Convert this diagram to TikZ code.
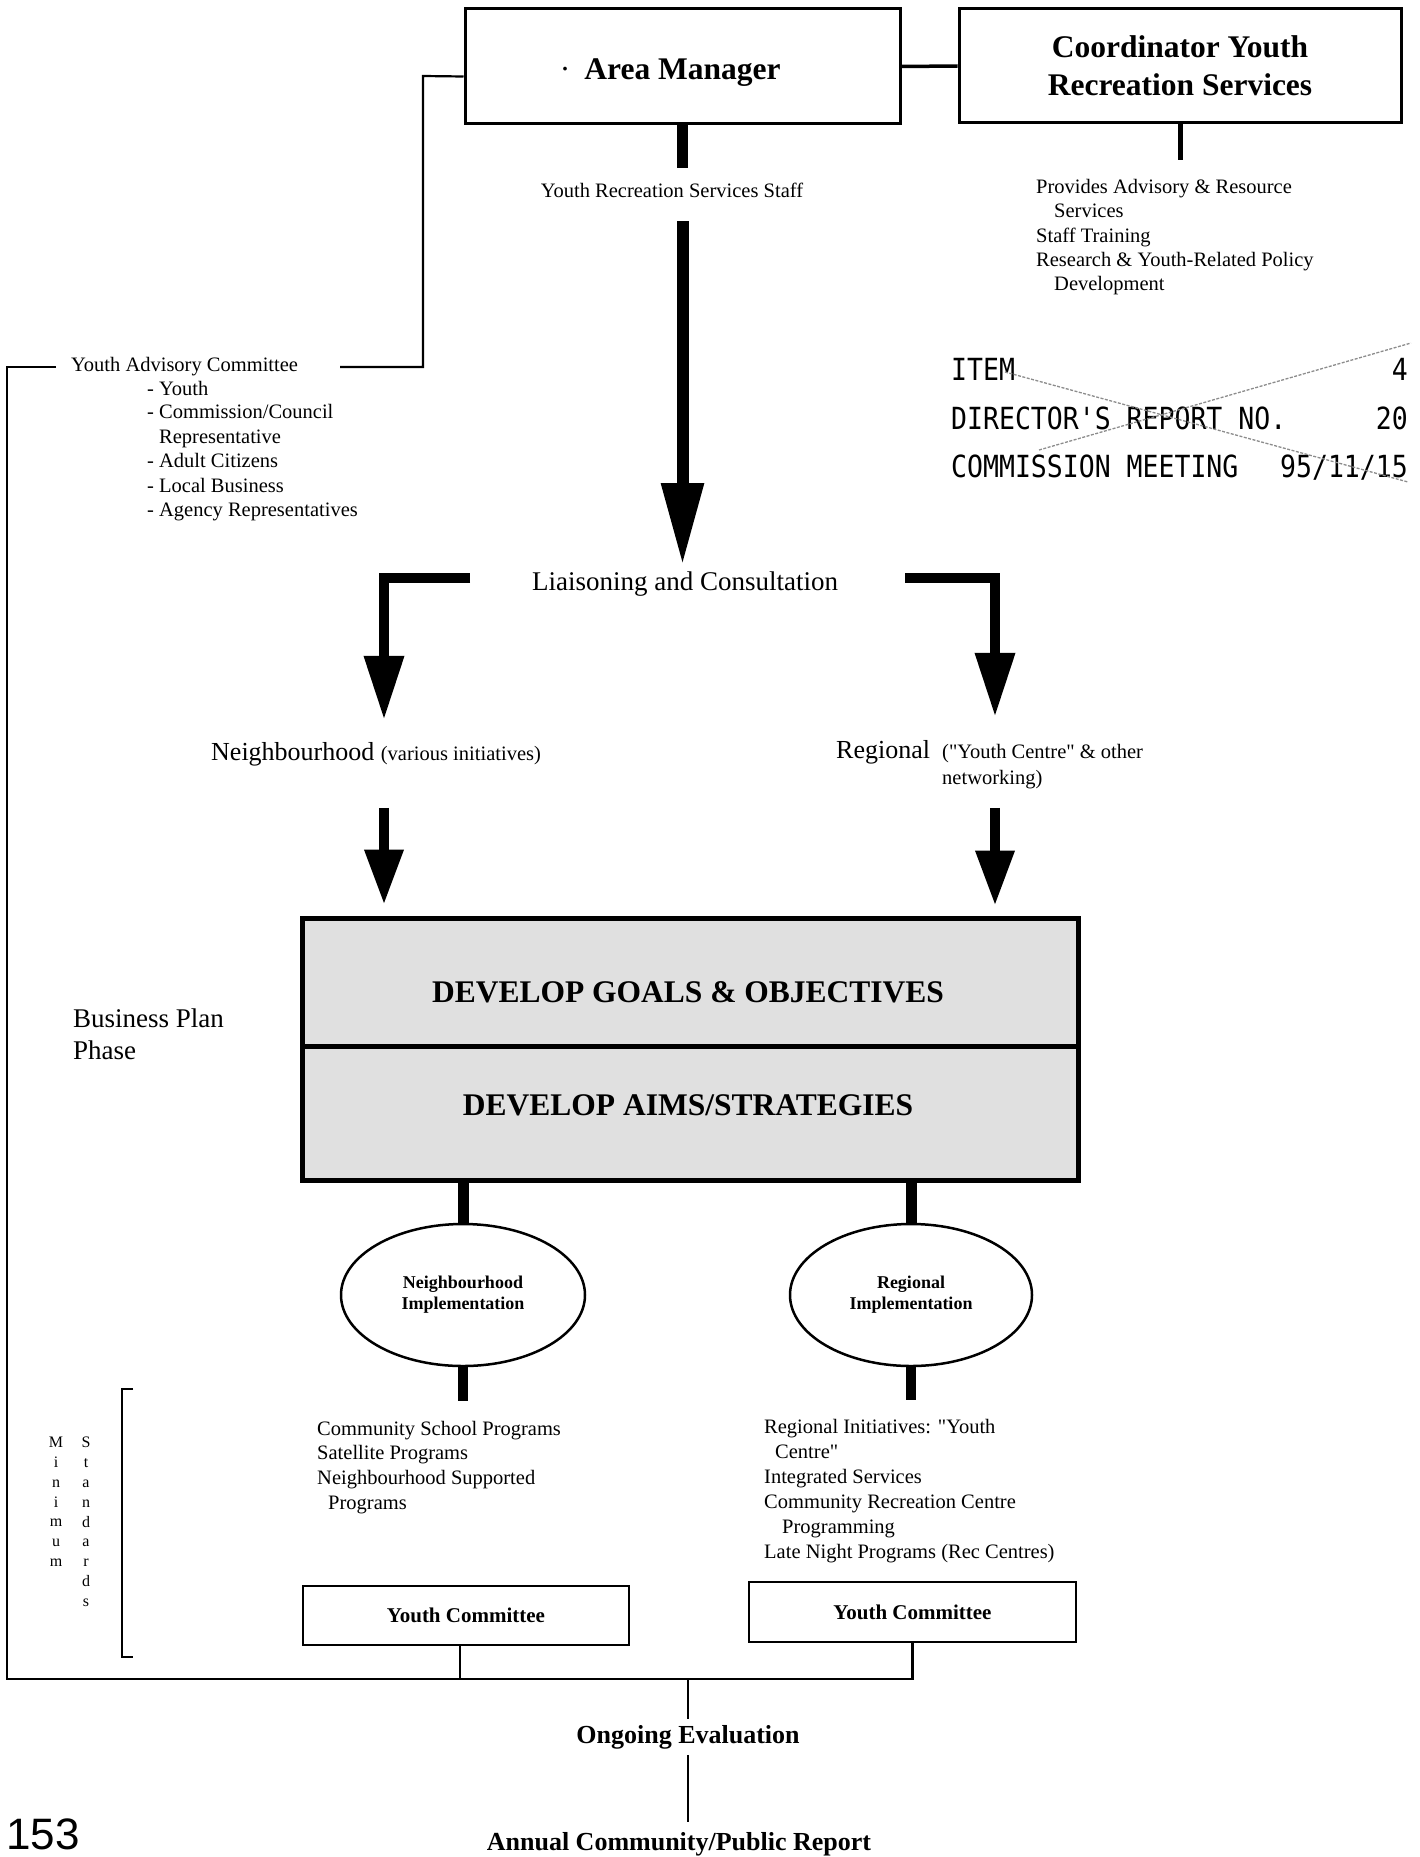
\documentclass[tikz,border=0pt]{standalone}
\usepackage{fontspec}
\setmainfont{Liberation Serif}
\newfontfamily\straightserif{Liberation Serif}[Ligatures=TeXOff]
\newfontfamily\stampfont{DejaVu Sans Mono}
\newfontfamily\pagenumfont{Liberation Sans}
\usepackage{graphicx}
\usetikzlibrary{arrows.meta,shapes.geometric}
\newcommand{\myfs}[2]{\fontsize{#1}{#2}\selectfont}
\newcommand{\stampT}[1]{\scalebox{1}[1.15]{\stampfont\myfs{26.5}{30}#1}}
\begin{document}
\begin{tikzpicture}[x=1pt,y=-1pt,
  conn/.style={line width=2.2pt, line join=miter},
  bigarr/.style={line width=12pt, -{Triangle[width=40pt,length=82pt]}},
  bentarr/.style={line width=10pt, line join=miter, -{Triangle[width=38pt,length=64pt]}},
  lowarr/.style={line width=10pt, -{Triangle[width=37pt,length=55pt]}},
  sm/.style={font=\myfs{20.5}{24.5}, inner sep=0pt},
  mid/.style={font=\myfs{27}{32}, inner sep=0pt},
  stamp/.style={inner sep=0pt},
  bizbox/.style={draw, line width=5pt, fill=black!12, minimum width=776pt, inner sep=0pt},
  bizcap/.style={font=\bfseries\myfs{31.5}{36}, inner sep=0pt, anchor=base},
  impl/.style={ellipse, draw, line width=2.5pt, minimum height=142pt, align=center, font=\bfseries\myfs{18}{21}},
  ycbox/.style={draw, line width=2.5pt, minimum width=326pt, minimum height=59pt, font=\bfseries\myfs{21}{25}},
  xline/.style={draw=black!45, line width=1.3pt, dash pattern=on 3pt off 1.5pt}
]
\useasboundingbox (0,0) rectangle (1419,1857);
\clip (0,0) rectangle (1419,1857);

% top boxes
\node[draw, line width=3pt, minimum width=435pt, minimum height=115pt, inner sep=0pt,
      text height=26pt, text depth=0pt, font=\bfseries\myfs{31.5}{38}] (am) at (682.5,66.5)
      {\llap{{\mdseries\textperiodcentered}\hspace{14pt}}Area Manager};
\node[draw, line width=3pt, minimum width=442pt, minimum height=114pt, inner sep=0pt,
      align=center, font=\bfseries\myfs{31.5}{38}] (coord) at (1180,66)
      {Coordinator Youth\\Recreation Services};
\draw[line width=3.5pt] (am.east) -- (coord.west);

% staff
\node[sm, anchor=base] (staff) at (672,197) {Youth Recreation Services Staff};
\draw[line width=11pt, shorten >=14pt] (am.south) -- (am.south |- staff.north);

% coordinator services
\node[sm, anchor=base west] (prov1) at (1036,193) {Provides Advisory \& Resource};
\node[sm, anchor=base west] (prov2) at (1054,217.5) {Services};
\node[sm, anchor=base west] (prov3) at (1036,242) {Staff Training};
\node[sm, anchor=base west] (prov4) at (1036,266.5) {Research \& Youth-Related Policy};
\node[sm, anchor=base west] (prov5) at (1054,290) {Development};
\draw[line width=5pt, shorten >=19pt] (coord.south) -- (coord.south |- prov1.north);

% youth advisory committee
\node[sm, anchor=base west] (yac) at (71,371) {Youth Advisory Committee};
\node[sm, anchor=base west] (yac1) at (147,395) {- Youth};
\node[sm, anchor=base west] (yac2) at (147,418.5) {- Commission/Council};
\node[sm, anchor=base west] (yac3) at (159,443) {Representative};
\node[sm, anchor=base west] (yac4) at (147,467) {- Adult Citizens};
\node[sm, anchor=base west] (yac5) at (147,492) {- Local Business};
\node[sm, anchor=base west] (yac6) at (147,516) {- Agency Representatives};
\coordinate (amLbend) at (423,76);
\coordinate (yacR) at (340,367);
\draw[conn] ([yshift=-10pt]am.west) -- (amLbend) -- (amLbend |- yacR) -- (yacR);

% stamp
\node[stamp, anchor=base west] (st1) at (951,380) {\stampT{ITEM}};
\node[stamp, anchor=base east] (st1r) at (1408,380) {\stampT{4}};
\node[stamp, anchor=base west] (st2) at (951,429) {\stampT{DIRECTOR'S REPORT NO.}};
\node[stamp, anchor=base east] (st2r) at (1408,429) {\stampT{20}};
\node[stamp, anchor=base west] (st3) at (951,477) {\stampT{COMMISSION MEETING}};
\node[stamp, anchor=base east] (st3r) at (1408,477) {\stampT{95/11/15}};
\draw[xline] (1005,372) -- (1408,482);
\draw[xline] (1039,450) -- (1411,343);

% liaison
\node[mid, anchor=base] (liaison) at (685,590) {Liaisoning and Consultation};
\draw[bigarr, shorten <=24pt, shorten >=6pt] (am.south |- staff.south) -- (am.south |- liaison.north);

% neighbourhood / regional
\node[font=\myfs{26}{30}, inner sep=0pt, anchor=base west] (nbh) at (211,760)
  {Neighbourhood {\myfs{20.5}{24.5}(various initiatives)}};
\node[font=\myfs{26}{30}, inner sep=0pt, anchor=base west] (reg) at (836,758) {Regional};
\node[sm, anchor=base west] (reg2) at (942,758) {\straightserif("Youth Centre" \& other};
\node[sm, anchor=base west] (reg3) at (942,784) {networking)};

\coordinate (lbarS) at (470,578);
\coordinate (lcorner) at (384,578);
\coordinate (rbarS) at (905,578);
\coordinate (rcorner) at (995,578);
\draw[bentarr, shorten >=22pt] (lbarS) -- (lcorner) -- (lcorner |- nbh.north);
\draw[bentarr, shorten >=23pt] (rbarS) -- (rcorner) -- (rcorner |- reg.north);

% business plan box
\node[bizbox, minimum height=134pt] (aims) at (690,1113) {};
\node[bizbox, minimum height=128pt] (goals) at (690,982) {};
\node[bizcap] (goalsT) at (688,1002.5) {DEVELOP GOALS \& OBJECTIVES};
\node[bizcap] (aimsT) at (688,1115.5) {DEVELOP AIMS/STRATEGIES};
\draw[lowarr, shorten <=42pt, shorten >=11pt] (lcorner |- nbh.south) -- (lcorner |- goals.north);
\draw[lowarr, shorten <=44pt, shorten >=10pt] (rcorner |- reg.south) -- (rcorner |- goals.north);

\node[mid, anchor=base west] (bp1) at (73,1027) {Business Plan};
\node[mid, anchor=base west] (bp2) at (73,1059) {Phase};

% implementation ellipses
\node[impl, minimum width=244pt] (nimp) at (463,1295) {Neighbourhood\\Implementation};
\node[impl, minimum width=242pt] (rimp) at (911,1295) {Regional\\Implementation};
\draw[line width=11pt] (aims.south -| nimp.north) -- (nimp.north);
\draw[line width=11pt] (aims.south -| rimp.north) -- (rimp.north);

% lists
\node[sm, anchor=base west] (cs1) at (317,1435) {Community School Programs};
\node[sm, anchor=base west] (cs2) at (317,1459.5) {Satellite Programs};
\node[sm, anchor=base west] (cs3) at (317,1484) {Neighbourhood Supported};
\node[sm, anchor=base west] (cs4) at (328,1509) {Programs};
\node[sm, anchor=base west] (ri1) at (764,1433) {\straightserif Regional Initiatives: "Youth};
\node[sm, anchor=base west] (ri2) at (775,1458) {\straightserif Centre"};
\node[sm, anchor=base west] (ri3) at (764,1483) {Integrated Services};
\node[sm, anchor=base west] (ri4) at (764,1508) {Community Recreation Centre};
\node[sm, anchor=base west] (ri5) at (782,1533) {Programming};
\node[sm, anchor=base west] (ri6) at (764,1558) {Late Night Programs (Rec Centres)};
\draw[line width=10.5pt, shorten >=20pt] (nimp.south) -- (nimp.south |- cs1.north);
\draw[line width=10.5pt, shorten >=19pt] (rimp.south) -- (rimp.south |- ri1.north);

% minimum standards
\node[font=\myfs{16}{19.8}, inner sep=0pt, align=center, anchor=north] (msA) at (56,1437) {M\\i\\n\\i\\m\\u\\m};
\node[font=\myfs{16}{19.8}, inner sep=0pt, align=center, anchor=north] (msB) at (86,1437) {S\\t\\a\\n\\d\\a\\r\\d\\s};
\draw[conn] (133,1389) -- (122,1389) -- (122,1657) -- (133,1657);

% youth committees
\node[ycbox] (yc1) at (466,1615.5) {Youth Committee};
\node[ycbox, minimum width=327pt, minimum height=60pt] (yc2) at (912.5,1612) {Youth Committee};

% evaluation
\node[font=\bfseries\myfs{26}{30}, inner sep=0pt, anchor=base] (ongoing) at (688,1743) {Ongoing Evaluation};
\node[font=\bfseries\myfs{26}{30}, inner sep=0pt, anchor=base] (annual) at (679,1850) {Annual Community/Public Report};

% frame connectors
\coordinate (yacL) at (56,367);
\coordinate (frameTL) at (7,367);
\coordinate (frameBL) at (7,1679);
\coordinate (yc1s) at ([xshift=-6pt]yc1.south);
\draw[conn] (yacL) -- (frameTL) -- (frameBL) -- (frameBL -| yc2.south) -- (yc2.south);
\draw[conn] (yc1s) -- (yc1s |- frameBL);
\draw[conn, shorten >=6pt] (frameBL -| ongoing.north) -- (ongoing.north);
\draw[conn, shorten <=6pt, shorten >=10pt] (ongoing.south) -- (ongoing.south |- annual.north);

% page number
\node[font=\pagenumfont\myfs{44}{48}, inner sep=0pt, anchor=base west] (pnum) at (6,1849) {153};
\end{tikzpicture}
\end{document}
